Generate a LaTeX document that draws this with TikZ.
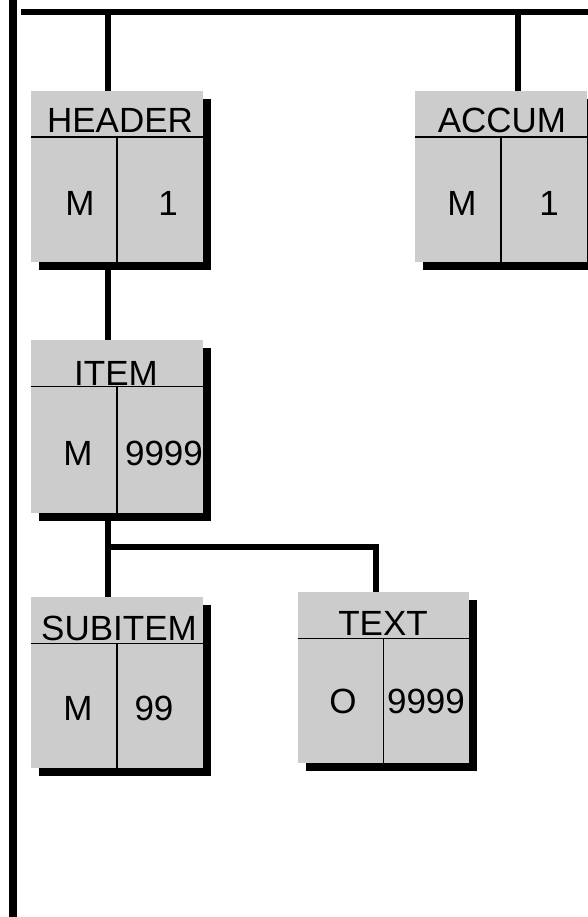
\documentclass[tikz,border=0pt]{standalone}
\usepackage{fontspec}
\setmainfont{Liberation Sans}
\usetikzlibrary{shadows}
\definecolor{boxgray}{RGB}{204,204,204}
\begin{document}
\begin{tikzpicture}[x=1pt,y=-1pt,
  conn/.style={line width=6pt,line cap=butt,line join=miter},
  bus/.style={line width=8pt,line cap=butt},
  ent/.style={rectangle,fill=boxgray,draw=none,inner sep=0pt,
    minimum width=172pt,minimum height=171pt,
    drop shadow={opacity=1,fill=black,shadow xshift=8pt,shadow yshift=-8pt}},
  hline/.style={line width=1.6pt},
  dline/.style={line width=1.3pt},
  lbl/.style={anchor=base,inner sep=0pt,font=\fontsize{35}{35}\selectfont}]
\useasboundingbox (0,0) rectangle (588,917);
% bus lines
\coordinate (lb1) at (13,0);
\coordinate (lb2) at (13,917);
\coordinate (tl) at (21,12);
\coordinate (tr) at (588,12);
\draw[bus] (lb1) -- (lb2);
\draw[conn] (tl) -- (tr);
% boxes
\node[ent] (header) at (117,176.5) {};
\node[ent] (accum) at (501,176.5) {};
\node[ent,minimum height=173pt] (item) at (117,426.5) {};
\node[ent] (subitem) at (117,682.5) {};
\node[ent,minimum width=171pt] (text) at (383.5,677.5) {};
% connectors
\coordinate (hj) at (108,12);
\coordinate (aj) at (518,12);
\coordinate (bj) at (108,547);
\coordinate (tj) at (376,547);
\begin{scope}[on background layer/.style={}]
\end{scope}
\draw[conn] (hj) -- (hj |- header.north);
\draw[conn] ([yshift=-8pt]hj |- header.south) -- (hj |- item.north);
\draw[conn] ([yshift=-8pt]hj |- item.south) -- (hj |- subitem.north);
\draw[conn] (bj) -- (tj) -- (tj |- text.north);
\draw[conn] (aj) -- (aj |- accum.north);
% inner lines
\foreach \b in {header,accum,item,subitem,text}{
  \draw[hline] ([yshift=-46.5pt]\b.north west) -- ([yshift=-46.5pt]\b.north east);
  \draw[dline] ([yshift=-46.5pt]\b.north) -- (\b.south);
}
% labels
\node[lbl] (headerT) at (120,133) {HEADER};
\node[lbl] (headerL) at (80,215) {M};
\node[lbl] (headerR) at (168,215) {1};
\node[lbl] (accumT) at (502,133) {ACCUM};
\node[lbl] (accumL) at (462,215) {M};
\node[lbl] (accumR) at (549,215) {1};
\node[lbl] (itemT) at (116,385) {ITEM};
\node[lbl] (itemL) at (78,465) {M};
\node[lbl] (itemR) at (164,465) {9999};
\node[lbl] (subitemT) at (119,640) {SUBITEM};
\node[lbl] (subitemL) at (78,720) {M};
\node[lbl] (subitemR) at (154,720) {99};
\node[lbl] (textT) at (383,635) {TEXT};
\node[lbl] (textL) at (343,713) {O};
\node[lbl] (textR) at (426,713) {9999};
\end{tikzpicture}
\end{document}
